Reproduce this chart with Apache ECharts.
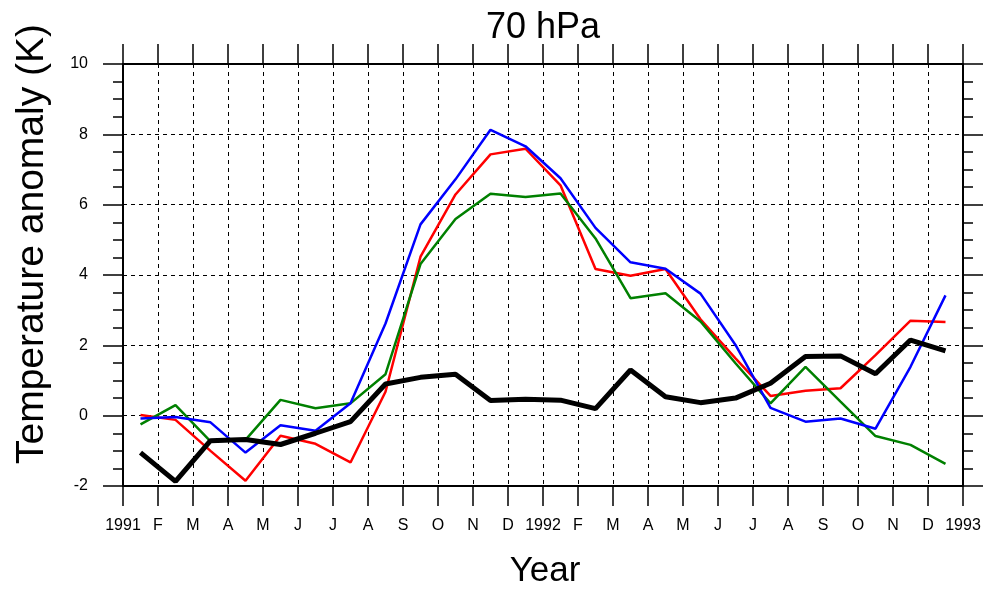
<!DOCTYPE html>
<html>
<head>
<meta charset="utf-8">
<script src="https://cdn.jsdelivr.net/npm/echarts@6/dist/echarts.min.js"></script>
<style>html,body{margin:0;padding:0;background:#fff}#c{width:986px;height:589px}</style>
</head>
<body>
<div id="c"></div>
<script>
// Months Jan 1991 .. Dec 1992 (values plotted at mid-month)
var months = ['1991-01','1991-02','1991-03','1991-04','1991-05','1991-06','1991-07','1991-08','1991-09','1991-10','1991-11','1991-12',
              '1992-01','1992-02','1992-03','1992-04','1992-05','1992-06','1992-07','1992-08','1992-09','1992-10','1992-11','1992-12'];
var tickLabels = ['1991','F','M','A','M','J','J','A','S','O','N','D','1992','F','M','A','M','J','J','A','S','O','N','D','1993'];
var blackSeries = [-1.05,-1.87,-0.71,-0.68,-0.82,-0.50,-0.17,0.90,1.09,1.18,0.43,0.47,0.44,0.20,1.30,0.54,0.37,0.50,0.92,1.68,1.70,1.19,2.15,1.84];
var redSeries   = [0.02,-0.12,-1.00,-1.85,-0.57,-0.80,-1.33,0.68,4.52,6.29,7.43,7.59,6.55,4.17,3.98,4.17,2.74,1.63,0.56,0.71,0.78,1.72,2.70,2.66];
var greenSeries = [-0.25,0.30,-0.73,-0.69,0.45,0.21,0.35,1.18,4.31,5.59,6.31,6.22,6.32,5.04,3.34,3.48,2.68,1.49,0.35,1.39,0.40,-0.58,-0.83,-1.37];
var blueSeries  = [-0.08,-0.04,-0.19,-1.05,-0.27,-0.43,0.35,2.62,5.44,6.72,8.13,7.66,6.75,5.34,4.36,4.18,3.47,2.01,0.22,-0.17,-0.08,-0.37,1.39,3.42];
var titleText = '70 hPa';
var xTitle = 'Year';
var yTitle = 'Temperature anomaly (K)';

function pairs(arr){ return arr.map(function(v,i){ return [i+0.5, v]; }); }

var FONT = "'Liberation Sans', Arial, Helvetica, sans-serif";
var chart = echarts.init(document.getElementById('c'));
var dashed = {show:true, lineStyle:{color:'#000', width:1, type:[4,4]}};
var axLine = {show:true, onZero:false, lineStyle:{color:'#000', width:2}};
var tick = {show:true, inside:false, length:20, lineStyle:{color:'#000', width:1.5}};
var minor = {show:true, splitNumber:4, length:10, lineStyle:{color:'#000', width:1.5}};

chart.setOption({
  animation:false,
  backgroundColor:'#fff',
  grid:{left:123, right:23, top:64, bottom:103, containLabel:false, outerBoundsMode:'none'},
  graphic:[
    {type:'text', x:543, y:28, style:{text:titleText, fontFamily:FONT, fontSize:36, fill:'#000', align:'center', verticalAlign:'middle'}},
    {type:'text', x:545, y:571, style:{text:xTitle, fontFamily:FONT, fontSize:35, fill:'#000', align:'center', verticalAlign:'middle'}},
    {type:'text', x:32, y:244, rotation:Math.PI/2, style:{text:yTitle, fontFamily:FONT, fontSize:39, fill:'#000', align:'center', verticalAlign:'middle'}}
  ],
  xAxis:[{
    type:'value', min:0, max:24, interval:1, position:'bottom',
    axisLine:axLine, axisTick:tick,
    axisLabel:{show:true, margin:32, fontFamily:FONT, fontSize:16, color:'#000', showMinLabel:true, showMaxLabel:true,
      formatter:function(v){ return tickLabels[Math.round(v)]; }},
    splitLine:dashed
  },{
    type:'value', min:0, max:24, interval:1, position:'top',
    axisLine:axLine, axisTick:tick,
    axisLabel:{show:false}, splitLine:{show:false}
  }],
  yAxis:[{
    type:'value', min:-2, max:10, interval:2, position:'left',
    axisLine:axLine, axisTick:tick, minorTick:minor,
    axisLabel:{show:true, margin:35, fontFamily:FONT, fontSize:16, color:'#000', showMinLabel:true, showMaxLabel:true},
    splitLine:dashed
  },{
    type:'value', min:-2, max:10, interval:2, position:'right',
    axisLine:axLine, axisTick:tick, minorTick:minor,
    axisLabel:{show:false}, splitLine:{show:false}
  }],
  series:[
    {type:'line', name:'red', data:pairs(redSeries), showSymbol:false, symbol:'none', lineStyle:{color:'#ff0000', width:2.5}, z:3},
    {type:'line', name:'green', data:pairs(greenSeries), showSymbol:false, symbol:'none', lineStyle:{color:'#008000', width:2.5}, z:3},
    {type:'line', name:'blue', data:pairs(blueSeries), showSymbol:false, symbol:'none', lineStyle:{color:'#0000ff', width:2.5}, z:3},
    {type:'line', name:'black', data:pairs(blackSeries), showSymbol:false, symbol:'none', lineStyle:{color:'#000', width:5}, z:4}
  ]
});
</script>
</body>
</html>
